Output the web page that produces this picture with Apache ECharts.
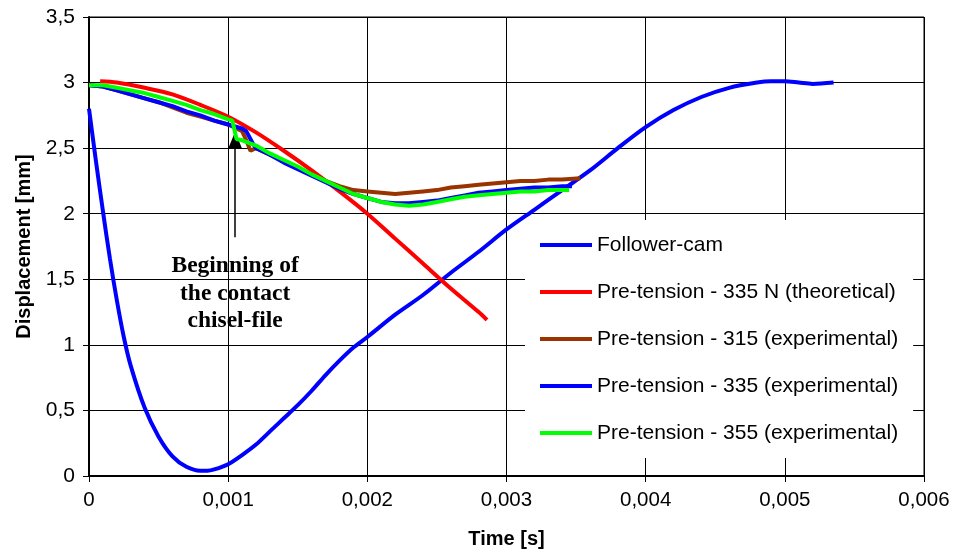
<!DOCTYPE html>
<html><head><meta charset="utf-8">
<script src="https://cdn.jsdelivr.net/npm/echarts@6/dist/echarts.min.js"></script>
<style>html,body{margin:0;padding:0;background:#fff}#c{width:953px;height:554px}</style>
</head><body><div id="c"></div>
<script>
// ---- data ----
var followerT = [0,0.00005,0.0001,0.00015,0.0002,0.00025,0.0003,0.0004,0.0005,0.0006,0.0007,0.0008,0.00085,0.0009,0.001,0.0011,0.0012,0.0013,0.0014,0.0015,0.0016,0.0017,0.0018,0.0019,0.002,0.0022,0.0024,0.0026,0.0028,0.003,0.0032,0.0034,0.0036,0.0038,0.004,0.0042,0.0044,0.0046,0.0048,0.0049,0.005,0.0051,0.0052,0.00535];
var followerY = [2.8,2.4,2.02,1.66,1.34,1.06,0.84,0.52,0.3,0.15,0.07,0.04,0.04,0.05,0.09,0.16,0.24,0.34,0.44,0.54,0.65,0.77,0.88,0.98,1.06,1.23,1.38,1.55,1.71,1.88,2.03,2.18,2.33,2.5,2.66,2.79,2.89,2.96,3.0,3.01,3.01,3.0,2.99,3.0];

var theoT = [0.00008,0.0002,0.0004,0.0006,0.0008,0.001,0.0012,0.0014,0.0016,0.0018,0.002,0.0022,0.0024,0.0026,0.0028,0.00286];
var theoY = [3.01,3.0,2.96,2.91,2.83,2.74,2.62,2.48,2.33,2.17,2.0,1.81,1.62,1.43,1.25,1.19];

var p315T = [0,0.0001,0.0002,0.0003,0.0004,0.0005,0.0006,0.0007,0.0008,0.0009,0.001,0.0011,0.00113,0.00116,0.0012,0.0013,0.0014,0.0015,0.0016,0.0017,0.0018,0.0019,0.002,0.0021,0.0022,0.0023,0.0024,0.0025,0.0026,0.0027,0.0028,0.0029,0.003,0.0031,0.0032,0.0033,0.0034,0.00353];
var p315Y = [2.98,2.97,2.94,2.91,2.88,2.85,2.81,2.77,2.74,2.71,2.68,2.63,2.56,2.48,2.5,2.45,2.4,2.35,2.3,2.25,2.21,2.18,2.17,2.16,2.15,2.16,2.17,2.18,2.2,2.21,2.22,2.23,2.24,2.25,2.25,2.26,2.26,2.27];

var p335T = [0,0.0001,0.0002,0.0003,0.0004,0.0005,0.0006,0.0007,0.0008,0.0009,0.001,0.0011,0.00113,0.00118,0.0012,0.0013,0.0014,0.0015,0.0016,0.0017,0.0018,0.0019,0.002,0.0021,0.0022,0.0023,0.0024,0.0025,0.0026,0.0027,0.0028,0.0029,0.003,0.0031,0.0032,0.0033,0.0034,0.00347];
var p335Y = [2.98,2.97,2.94,2.91,2.88,2.85,2.82,2.78,2.75,2.71,2.68,2.65,2.63,2.53,2.5,2.45,2.39,2.34,2.29,2.24,2.19,2.15,2.12,2.09,2.08,2.08,2.09,2.1,2.12,2.14,2.16,2.17,2.18,2.19,2.2,2.2,2.21,2.21];

var p355T = [0,0.0001,0.0002,0.0003,0.0004,0.0005,0.0006,0.0007,0.0008,0.0009,0.001,0.00103,0.00106,0.0011,0.0012,0.0013,0.0014,0.0015,0.0016,0.0017,0.0018,0.0019,0.002,0.0021,0.0022,0.0023,0.0024,0.0025,0.0026,0.0027,0.0028,0.0029,0.003,0.0031,0.0032,0.0033,0.0034,0.00345];
var p355Y = [2.98,2.98,2.96,2.94,2.92,2.89,2.86,2.83,2.79,2.76,2.72,2.71,2.57,2.56,2.52,2.46,2.41,2.36,2.3,2.25,2.2,2.15,2.12,2.09,2.07,2.06,2.07,2.09,2.11,2.13,2.14,2.15,2.16,2.17,2.17,2.18,2.18,2.18];

var seriesNames = ['Follower-cam','Pre-tension - 335 N (theoretical)','Pre-tension - 315 (experimental)','Pre-tension - 335 (experimental)','Pre-tension - 355 (experimental)'];
var annotationLines = ['Beginning of','the contact','chisel-file'];
var arrowT = 0.00105, arrowFromY = 1.82, arrowToY = 2.56, annotationY = [1.60, 1.39, 1.18];

function zip(a,b){return a.map(function(v,i){return [v,b[i]];});}
var colors = ['#0000FF','#FF0000','#993300','#0000FF','#00FF00'];
var datas = [zip(followerT,followerY),zip(theoT,theoY),zip(p315T,p315Y),zip(p335T,p335Y),zip(p355T,p355Y)];
var smooths = [0.3,0.3,false,false,false];

var chart = echarts.init(document.getElementById('c'));
var series = datas.map(function(d,i){
  return {name:seriesNames[i],type:'line',data:d,showSymbol:false,smooth:smooths[i],
    lineStyle:{color:colors[i],width:4},itemStyle:{color:colors[i]},z:2+i};
});
series[0].markLine = {silent:true,symbol:['none','triangle'],symbolSize:[14,17],
  lineStyle:{color:'#000',width:1.5,type:'solid'},label:{show:false},
  data:[[{coord:[arrowT,arrowFromY]},{coord:[arrowT,arrowToY]}]]};

var fmtX = function(v){return v===0?'0':v.toFixed(3).replace('.',',');};
var fmtY = function(v){return String(v).replace('.',',');};

chart.setOption({
  animation:false,
  grid:{left:89,right:29,top:17,bottom:76,show:true,borderColor:'#000',borderWidth:1},
  xAxis:{type:'value',min:0,max:0.006,interval:0.001,
    name:'Time [s]',nameLocation:'middle',nameGap:53,
    nameTextStyle:{fontFamily:'Liberation Sans',fontWeight:'bold',fontSize:20,color:'#000'},
    axisLine:{lineStyle:{color:'#000',width:2}},
    axisTick:{show:true,length:6,lineStyle:{color:'#000'}},
    axisLabel:{formatter:fmtX,fontFamily:'Liberation Sans',fontSize:20.5,color:'#000',margin:14},
    splitLine:{show:true,lineStyle:{color:'#000',width:1}}},
  yAxis:{type:'value',min:0,max:3.5,interval:0.5,
    name:'Displacement [mm]',nameLocation:'middle',nameGap:55,
    nameTextStyle:{fontFamily:'Liberation Sans',fontWeight:'bold',fontSize:20,color:'#000'},
    axisLine:{show:true,lineStyle:{color:'#000',width:2}},
    axisTick:{show:true,length:6,lineStyle:{color:'#000'}},
    axisLabel:{formatter:fmtY,fontFamily:'Liberation Sans',fontSize:21,color:'#000',margin:14},
    splitLine:{show:true,lineStyle:{color:'#000',width:1}}},
  legend:{orient:'vertical',left:525,top:220,padding:[13,15,13,15],backgroundColor:'#fff',
    itemWidth:52,itemHeight:4,itemGap:23,icon:'rect',
    textStyle:{fontFamily:'Liberation Sans',fontSize:21,color:'#000',lineHeight:24},
    data:seriesNames.map(function(n,i){return {name:n,itemStyle:{color:colors[i]}};})},
  series:series
});

var g = annotationLines.map(function(t,i){
  var p = chart.convertToPixel({gridIndex:0},[arrowT,annotationY[i]]);
  return {type:'text',x:p[0],y:p[1],style:{text:t,x:0,y:0,align:'center',verticalAlign:'middle',
    font:'bold 23.5px "Liberation Serif"',fill:'#000'},z:20};
});
chart.setOption({graphic:g});
</script></body></html>
